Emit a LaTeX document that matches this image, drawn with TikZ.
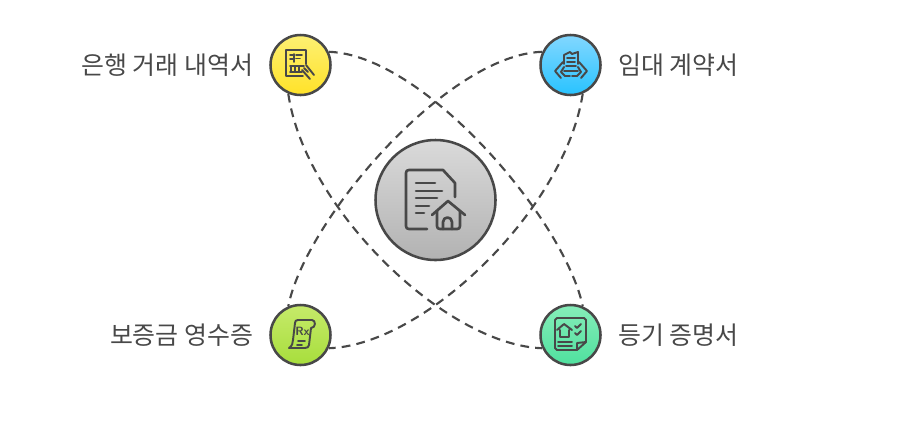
\documentclass[tikz,border=0pt]{standalone}
\usepackage{fontspec}
\setmainfont{Noto Sans CJK KR}
\definecolor{inkgray}{HTML}{484848}
\tikzset{
  bubble/.style={circle,draw=inkgray,line width=1.9pt,minimum size=45pt,inner sep=0pt},
  hubble/.style={circle,draw=inkgray,line width=1.9pt,minimum size=90pt,inner sep=0pt,top color={rgb,255:red,218;green,218;blue,218},bottom color={rgb,255:red,178;green,178;blue,178}},
  link/.style={draw=inkgray,line width=1.6pt,dash pattern=on 6.6pt off 4.6pt},
  tag/.style={text=inkgray,inner sep=0.75pt,font=\fontsize{18.7pt}{22pt}\selectfont},
  glyph/.style={draw=inkgray,line width=1.45pt,line join=round,line cap=round},
  bigglyph/.style={draw=inkgray,line width=2pt,line join=round,line cap=round}
}
\begin{document}
\begin{tikzpicture}[x=0.75pt,y=0.75pt,yscale=-1,xscale=1]
    \useasboundingbox (0,0) rectangle (902,444);

    % Circles
    \node (center) [hubble] at (435.5,200) {};
    \node (bank) [bubble,top color={rgb,255:red,253;green,240;blue,115},bottom color={rgb,255:red,255;green,226;blue,40}] at (300.5,65) {};
    \node (lease) [bubble,top color={rgb,255:red,130;green,215;blue,255},bottom color={rgb,255:red,40;green,195;blue,255}] at (570.5,65) {};
    \node (receipt) [bubble,top color={rgb,255:red,198;green,234;blue,106},bottom color={rgb,255:red,167;green,222;blue,60}] at (300.5,335) {};
    \node (deed) [bubble,top color={rgb,255:red,134;green,237;blue,185},bottom color={rgb,255:red,79;green,224;blue,158}] at (570.5,335) {};

    % Dashed curves
    \draw [link] (bank.25) .. controls (425,55) and (565,221) .. (deed.67);
    \draw [link] (lease.155) .. controls (446,55) and (305,221) .. (receipt.113);
    \draw [link] (bank.-113) .. controls (305,209) and (446,345) .. (deed.205);
    \draw [link] (lease.-67) .. controls (565,209) and (425,345) .. (receipt.-25);

    % Text Node
    \node (banktag) [tag,anchor=east] at (254.5,65) {은행 거래 내역서};
    \node (leasetag) [tag,anchor=west] at (617,65) {임대 계약서};
    \node (receipttag) [tag,anchor=east] at (254.5,335) {보증금 영수증};
    \node (deedtag) [tag,anchor=west] at (617,335) {등기 증명서};

    % Icon: document with house
    \draw [bigglyph] (427,229) -- (409,229) .. controls (407,229) and (406,228) .. (406,226) -- (406,173) .. controls (406,171) and (407,170) .. (409,170) -- (443,170) -- (455,183) -- (455,197);
    \draw [bigglyph] (416,183) -- (435,183) (416,191) -- (442,191) (416,198) -- (437,198) (416,206) -- (429,206) (416,213) -- (424,213);
    \draw [bigglyph] (432,215) -- (448,201) -- (465,215);
    \draw [bigglyph] (437,211) -- (437,226) .. controls (437,228) and (438,229) .. (440,229) -- (457,229) .. controls (459,229) and (460,228) .. (460,226) -- (460,211);
    \draw [bigglyph] (443,229) -- (443,222) .. controls (443,216) and (452,216) .. (452,222) -- (452,229);

    % Icon: card and hand
    \draw [glyph] (306,64) -- (306,50) -- (286,50) -- (286,76) -- (303,76);
    \draw [glyph] (290,55) -- (294,55) (290,59) -- (294,59) (294,54) -- (294,62) (296,55) -- (302,55) (296,58.5) -- (300,58.5);
    \draw [glyph] (290,66) -- (304,66) (290,72) -- (302,72) (291,66) -- (291,72) (295,66) -- (295,72) (299,66) -- (299,72);
    \draw [glyph] (306,65) -- (314,75) (302,70) -- (310,79) (304,68) -- (308,72);

    % Icon: paper held in hands
    \draw [glyph] (564,64) -- (564,55) -- (570,52) -- (572,54) -- (578,52) -- (578,64);
    \draw [glyph] (567,58) -- (575,58) (567,62) -- (575,62) (566,66) -- (576,66) (564,71) -- (578,71);
    \draw [glyph] (563,62) -- (555,71) -- (561,78) (564,67) -- (561,72) -- (565,76) -- (570,76);
    \draw [glyph] (579,62) -- (587,71) -- (581,78) (578,67) -- (581,72) -- (577,76) -- (572,76);

    % Icon: prescription scroll
    \draw [glyph] (289,348) .. controls (292,346) and (293,343) .. (293,340) -- (295,323) .. controls (295,321) and (296,320) .. (298,320) -- (312,320) .. controls (316,320) and (316,328) .. (311,328) -- (309,345) .. controls (309,347) and (307,348) .. (305,348) -- cycle;
    \draw [glyph] (298,341) -- (305,341) (297,345) -- (302,345);
    \node (rxmark) [text=inkgray,inner sep=0pt,font=\sffamily\bfseries\fontsize{9pt}{9pt}\selectfont] at (302.5,331) {Rx};

    % Icon: note with house and checks
    \draw [glyph] (577,350) -- (557,350) -- (555,348) -- (555,320) -- (557,318) -- (584,318) -- (586,320) -- (586,342) -- (577,350) -- (577,343) -- (586,342);
    \draw [glyph] (557,330) -- (564,324) -- (572,330) (560,330) -- (560,337) -- (569,337) -- (569,330);
    \draw [glyph] (575,326) -- (577,328) -- (581,324) (575,333) -- (577,335) -- (581,331);
    \draw [glyph] (558,342) -- (572,342) (558,346) -- (572,346);
\end{tikzpicture}
\end{document}
